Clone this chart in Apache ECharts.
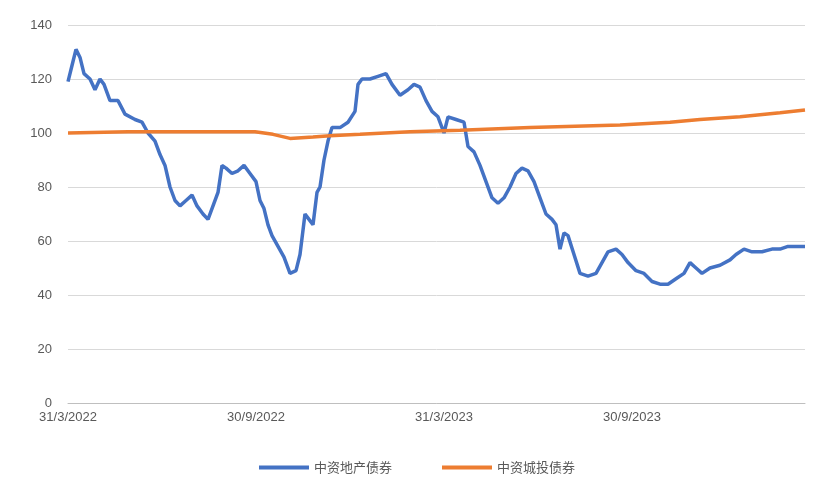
<!DOCTYPE html>
<html>
<head>
<meta charset="utf-8">
<script src="https://cdn.jsdelivr.net/npm/echarts@6/dist/echarts.min.js"></script>
<style>html,body{margin:0;padding:0;background:#fff}#c{width:834px;height:501px}</style>
</head>
<body>
<div id="c"></div>
<script>
// time index (approx. days since 31/3/2022)
var tickLabels = ['31/3/2022', '30/9/2022', '31/3/2023', '30/9/2023'];
var seriesNames = ['中资地产债券', '中资城投债券'];

var propT = [0,4,8,12,16,22,27,32,36,42,50,57,67,74,80,87,92,97,102,107,112,118,124,129,135,140,144,150,154,158,164,170,176,182,188,192,196,200,204,210,216,222,228,232,237,241,245,249,252,256,260,264,272,280,287,290,294,302,310,318,324,332,340,346,352,358,364,370,376,380,388,396,400,406,412,418,424,430,436,442,448,454,460,466,472,478,484,488,492,496,500,506,512,520,528,534,540,548,554,560,568,576,584,592,600,608,616,622,628,634,642,652,662,668,676,684,694,704,712,720,728,737];
var propV = [119,125,131,128,122,120,116,120,118,112,112,107,105,104,100,97,92,88,80,75,73,75,77,73,70,68,72,78,88,87,85,86,88,85,82,75,72,66,62,58,54,48,49,55,70,68,66,78,80,90,97,102,102,104,108,118,120,120,121,122,118,114,116,118,117,112,108,106,100,106,105,104,95,93,88,82,76,74,76,80,85,87,86,82,76,70,68,66,57,63,62,55,48,47,48,52,56,57,55,52,49,48,45,44,44,46,48,52,50,48,50,51,53,55,57,56,56,57,57,58,58,58];

var lgfvT = [0,60,120,187,205,222,245,262,292,342,392,462,552,602,632,672,712,737];
var lgfvV = [100,100.5,100.5,100.5,99.5,98,98.5,99,99.5,100.5,101,102,103,104,105,106,107.5,108.5];

function pairs(t, v) { return t.map(function (x, i) { return [x, v[i]]; }); }

var chart = echarts.init(document.getElementById('c'));
chart.setOption({
  animation: false,
  grid: { left: 68, right: 29, top: 25, bottom: 98 },
  legend: {
    bottom: 22, itemWidth: 50, itemHeight: 4, itemGap: 50,
    icon: 'rect',
    textStyle: { color: '#595959', fontSize: 13, fontFamily: 'Noto Sans CJK SC' },
    data: seriesNames
  },
  xAxis: {
    type: 'value', min: 0, max: 737, interval: 188,
    axisLine: { lineStyle: { color: '#bfbfbf' } },
    axisTick: { show: false },
    splitLine: { show: false },
    axisLabel: {
      color: '#595959', fontSize: 13,
      formatter: function (v) { return tickLabels[Math.round(v / 188)] || ''; }
    }
  },
  yAxis: {
    type: 'value', min: 0, max: 140, interval: 20,
    axisLine: { show: false }, axisTick: { show: false },
    axisLabel: { color: '#595959', fontSize: 13, margin: 16 },
    splitLine: { lineStyle: { color: '#d9d9d9' } }
  },
  series: [
    { name: seriesNames[0], type: 'line', showSymbol: false, data: pairs(propT, propV),
      lineStyle: { width: 3.5, color: '#4472c4' }, itemStyle: { color: '#4472c4' } },
    { name: seriesNames[1], type: 'line', showSymbol: false, data: pairs(lgfvT, lgfvV),
      lineStyle: { width: 3.5, color: '#ed7d31' }, itemStyle: { color: '#ed7d31' } }
  ]
});
</script>
</body>
</html>
